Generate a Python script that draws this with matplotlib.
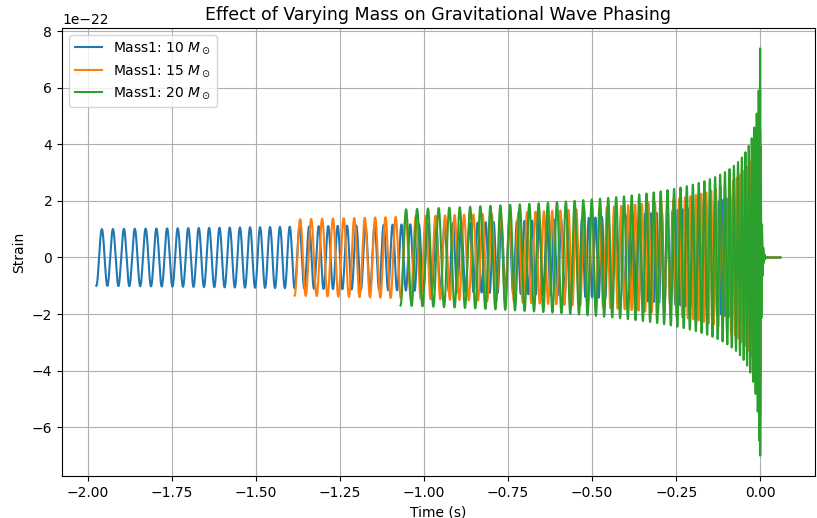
import numpy as np
import matplotlib
matplotlib.use("Agg")
import matplotlib.pyplot as plt

# values (strain in units of 1e-22)
mass1 = [10, 15, 20]
t_start = [-1.975, -1.385, -1.07]   # s, where each waveform begins
amp_start = [1.0, 1.35, 1.7]         # strain amplitude at the start
amp_peak = [4.5, 6.0, 7.5]           # strain amplitude at merger (crest)
amp_trough = [4.2, 5.6, 7.0]         # first trough right after merger
f_low = 30.0                         # Hz, starting frequency
t_end = 0.06                         # s, end of zero-padded tail
sample_rate = 4096


def chirp(t0, a0, apk, atr):
    # simple leading-order chirp ending at t=0, then a short ringdown
    tau = -t0
    eps = tau / (apk / a0) ** 4
    t = np.arange(t0, t_end, 1.0 / sample_rate)
    h = np.zeros_like(t)
    ins = t < 0
    x = -t[ins] + eps
    amp = a0 * (tau / x) ** 0.25
    phase = 2 * np.pi * f_low * tau ** 0.375 * (8 / 5) * ((tau + eps) ** 0.625 - x ** 0.625)
    # stretch phase a hair so the last inspiral sample sits on a crest
    target = (np.floor((phase[-1] - np.pi) / (2 * np.pi)) + 1) * 2 * np.pi + np.pi
    phase = phase * target / phase[-1]
    h[ins] = -amp * np.cos(phase)
    # ringdown, starting on a trough at the first sample after merger
    tr = t[~ins] - t[~ins][0]
    f_rd = f_low * (tau / eps) ** 0.375
    h[~ins] = -atr * np.exp(-tr / 0.003) * np.cos(2 * np.pi * f_rd * tr)
    return t, h * 1e-22


fig, ax = plt.subplots(figsize=(8.17, 5.18), dpi=100)
for m, t0, a0, apk, atr in zip(mass1, t_start, amp_start, amp_peak, amp_trough):
    t, h = chirp(t0, a0, apk, atr)
    ax.plot(t, h, label=f"Mass1: {m} $M_\\odot$")

ax.set_title("Effect of Varying Mass on Gravitational Wave Phasing", fontsize=12.5)
ax.set_xlabel("Time (s)")
ax.set_ylabel("Strain")
ax.legend(loc="upper left")
ax.grid(True)
plt.subplots_adjust(left=0.076, right=0.997, top=0.946, bottom=0.081)
plt.savefig("out.png")
